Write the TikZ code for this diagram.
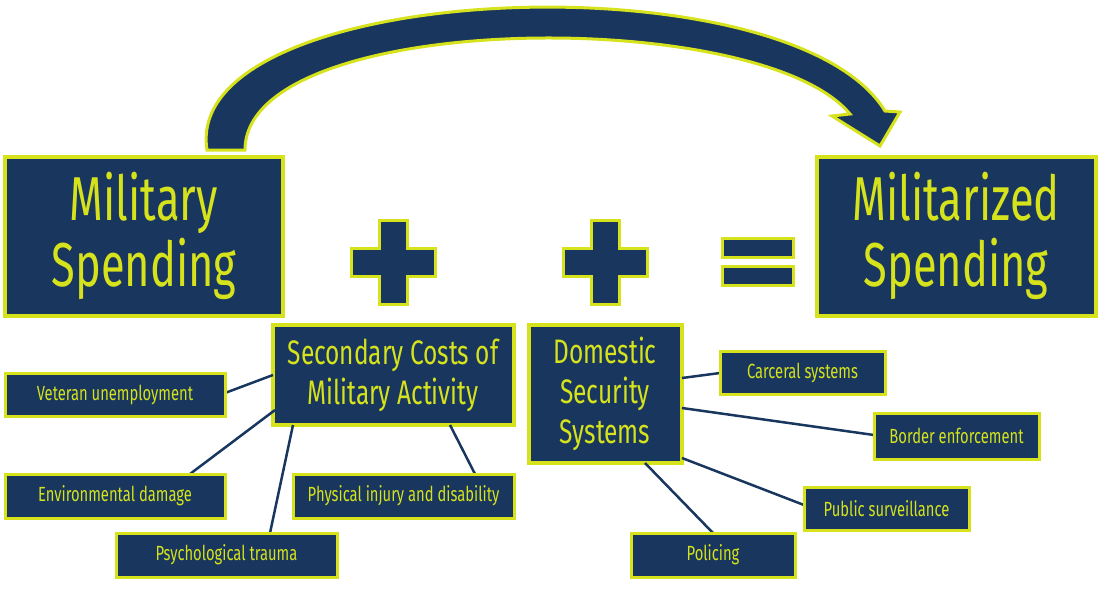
\documentclass[tikz,border=0pt]{standalone}
\usepackage{fontspec}
\setmainfont[FakeStretch=0.72]{Fira Sans}
\newfontfamily\bigf[FakeStretch=0.7]{Fira Sans}
\definecolor{navy}{HTML}{18365E}
\definecolor{lime}{HTML}{D5E21C}
\begin{document}
\begin{tikzpicture}[x=1pt,y=-1pt,
  bx/.style={draw=lime,line width=3.5pt,fill=navy},
  tx/.style={text=lime,align=center,inner sep=0pt},
  ln/.style={draw=navy,line width=2.5pt}]
\useasboundingbox (0,0) rectangle (1104,595);
% arrow
\filldraw[fill=navy,draw=lime,line width=3pt,line join=miter]
 (207,150) .. controls (180,-20) and (790,-45) .. (885,111) -- (900,112) -- (880,146) -- (832,116) -- (850,114) .. controls (760,5) and (245,10) .. (245,150) -- cycle;
% big boxes
\draw[bx] (5,157) rectangle (283,316); \node[tx,font=\bigf\fontsize{62}{66}\selectfont] (ms) at (144,236) {Military\\Spending};
\draw[bx] (817,157) rectangle (1096,316); \node[tx,font=\bigf\fontsize{62}{66}\selectfont] (mz) at (956,236) {Militarized\\Spending};
% plus & equals
\foreach \cx/\nm in {393/p1,605/p2}{
 \filldraw[fill=navy,draw=lime,line width=3pt] (\cx-14,220) -- (\cx+14,220) -- (\cx+14,248) -- (\cx+42,248) -- (\cx+42,276) -- (\cx+14,276) -- (\cx+14,304) -- (\cx-14,304) -- (\cx-14,276) -- (\cx-42,276) -- (\cx-42,248) -- (\cx-14,248) -- cycle;}
\draw[bx,line width=3pt] (722,238) rectangle (793,257);
\draw[bx,line width=3pt] (722,266) rectangle (793,285);
% mid boxes
\draw[bx] (273,325) rectangle (514,425); \node[tx,font=\fontsize{34}{40}\selectfont] (sc) at (393,375) {Secondary Costs of\\Military Activity};
\draw[bx] (529,325) rectangle (682,463); \node[tx,font=\fontsize{34}{40}\selectfont] (ds) at (605,394) {Domestic\\Security\\Systems};
% lines
\draw[ln] (273,375) -- (225,393);
\draw[ln] (275,410) -- (190,474);
\draw[ln] (293,425) -- (270,533);
\draw[ln] (450,425) -- (475,474);
\draw[ln] (682,378) -- (720,373);
\draw[ln] (682,408) -- (874,435);
\draw[ln] (682,458) -- (804,505);
\draw[ln] (645,463) -- (713,533);
% small boxes
\foreach \a/\b/\c/\d/\t/\n in {5/373/225/416/Veteran unemployment/v, 5/474/225/518/Environmental damage/e, 116/533/337/577/Psychological trauma/p, 293/474/514/518/Physical injury and disability/i, 720/351/885/394/Carceral systems/c, 874/413/1039/459/Border enforcement/b, 804/487/969/530/Public surveillance/s, 631/533/795/577/Policing/o}{
 \draw[bx,line width=3pt] (\a,\b) rectangle (\c,\d);
 \node[tx,font=\fontsize{20.5}{22}\selectfont] (\n) at ({(\a+\c)/2},{(\b+\d)/2}) {\t};}
\end{tikzpicture}
\end{document}
